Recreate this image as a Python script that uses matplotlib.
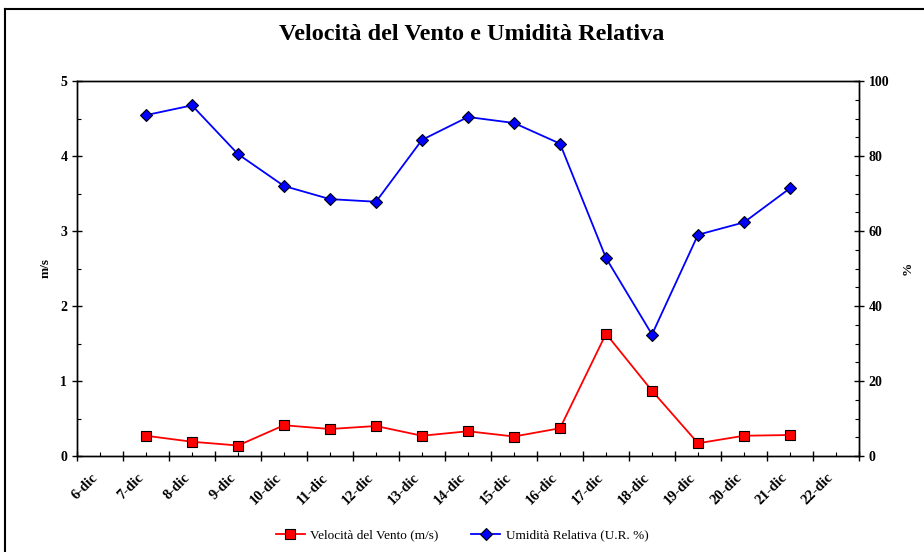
import matplotlib
matplotlib.use("Agg")
import matplotlib.pyplot as plt
from matplotlib.lines import Line2D
from matplotlib.ticker import MultipleLocator, FixedLocator, NullFormatter

categories = ["6-dic", "7-dic", "8-dic", "9-dic", "10-dic", "11-dic", "12-dic", "13-dic",
              "14-dic", "15-dic", "16-dic", "17-dic", "18-dic", "19-dic", "20-dic", "21-dic", "22-dic"]
data_days = ["7-dic", "8-dic", "9-dic", "10-dic", "11-dic", "12-dic", "13-dic", "14-dic",
             "15-dic", "16-dic", "17-dic", "18-dic", "19-dic", "20-dic", "21-dic"]
wind = [0.27, 0.19, 0.14, 0.41, 0.36, 0.40, 0.27, 0.33, 0.26, 0.37, 1.63, 0.87, 0.17, 0.27, 0.28]
humidity = [90.9, 93.5, 80.5, 72.0, 68.5, 67.8, 84.3, 90.4, 88.8, 83.3, 52.8, 32.4, 59.0, 62.3, 71.4]

serif = ["Liberation Serif", "DejaVu Serif"]
plt.rcParams['font.family'] = serif

fig = plt.figure(figsize=(9.24, 5.52), dpi=100)
ax = fig.add_axes([77/924, 1-456/552, (859-77)/924, (456-81)/552])
ax2 = ax.twinx()

xpos = [categories.index(d) for d in data_days]

ax.plot(xpos, wind, color='#ff0000', lw=1.3, marker='s', ms=7,
        mfc='#ff0000', mec='black', mew=0.8, zorder=3)
ax2.plot(xpos, humidity, color='#0000ff', lw=1.3, marker='D', ms=6,
         mfc='#0000ff', mec='black', mew=0.8, zorder=3)

n = len(categories)
ax.set_xlim(-0.5, n - 0.5)
ax.set_ylim(0, 5)
ax2.set_ylim(0, 100)

# x ticks: major at boundaries, labels at centers
ax.xaxis.set_major_locator(FixedLocator([i - 0.5 for i in range(n + 1)]))
ax.xaxis.set_major_formatter(NullFormatter())
ax.set_xticks(list(range(n)), minor=True)
ax.set_xticklabels(categories, minor=True, rotation=45, ha='right', va='top',
                   fontsize=10.5, fontweight='bold')

ax.yaxis.set_major_locator(MultipleLocator(1))
ax.yaxis.set_minor_locator(MultipleLocator(0.5))
ax2.yaxis.set_major_locator(MultipleLocator(20))
ax2.yaxis.set_minor_locator(MultipleLocator(5))

for a in (ax, ax2):
    a.tick_params(which='major', direction='inout', length=7, width=1, labelsize=10)
    a.tick_params(which='minor', direction='in', length=3, width=0.8)
    for s in a.spines.values():
        s.set_linewidth(1)
ax.tick_params(axis='x', which='minor', direction='in', length=3, pad=11, labelsize=10.5)
ax.tick_params(axis='x', which='major', direction='inout', length=7)

for lbl in ax.get_yticklabels() + ax2.get_yticklabels():
    lbl.set_fontweight('bold')

ax.set_ylabel("m/s", fontsize=9.5, fontweight='bold', labelpad=6)
ax2.set_ylabel("%", fontsize=9.5, fontweight='bold', labelpad=9)

fig.text(472/924, 1-35/552, "Velocità del Vento e Umidità Relativa", ha='center', va='center',
         fontsize=17.5, fontweight='bold')

handles = [Line2D([], [], color='#ff0000', lw=1.3, marker='s', ms=7, mfc='#ff0000', mec='black', mew=0.8),
           Line2D([], [], color='#0000ff', lw=1.3, marker='D', ms=6, mfc='#0000ff', mec='black', mew=0.8)]
fig.legend(handles, ["Velocità del Vento (m/s)", "Umidità Relativa (U.R. %)"],
           loc='center', bbox_to_anchor=(462/924, 1-535/552), ncol=2, frameon=False,
           fontsize=9.5, handlelength=2.2, columnspacing=2.5, handletextpad=0.4)

# outer chart border (top and left visible)
fig.add_artist(Line2D([5/924, 5/924], [0, 1-9/552], transform=fig.transFigure, color='black', lw=1.5))
fig.add_artist(Line2D([5/924, 1], [1-9/552, 1-9/552], transform=fig.transFigure, color='black', lw=1.5))

fig.savefig("out.png", dpi=100)
